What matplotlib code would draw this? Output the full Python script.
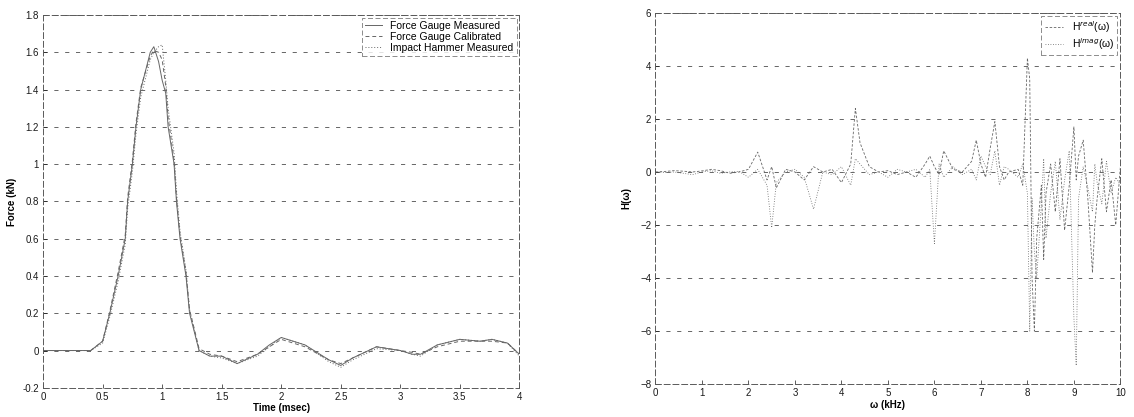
import matplotlib
matplotlib.use("Agg")
import matplotlib.pyplot as plt

plt.rcParams['font.family'] = ['Liberation Sans', 'DejaVu Sans']

# ---------------- Left panel data: force pulse ----------------
time_ms = [0.0, 0.1, 0.2, 0.3, 0.4, 0.5, 0.56, 0.63, 0.69, 0.71,
           0.75, 0.78, 0.82, 0.90, 0.93, 0.97, 1.0, 1.03, 1.05, 1.10,
           1.12, 1.15, 1.20, 1.23, 1.31, 1.4, 1.5, 1.63, 1.8, 1.9,
           2.0, 2.2, 2.4, 2.5, 2.6, 2.8, 3.0, 3.1, 3.17, 3.31,
           3.5, 3.67, 3.77, 3.9, 4.0]
force_measured = [0.0, 0.0, 0.0, 0.0, 0.0, 0.05, 0.2, 0.4, 0.6, 0.8,
                  1.0, 1.2, 1.4, 1.6, 1.63, 1.55, 1.45, 1.38, 1.2, 1.0,
                  0.8, 0.6, 0.4, 0.2, 0.0, -0.03, -0.03, -0.07, -0.02, 0.03,
                  0.07, 0.03, -0.05, -0.08, -0.04, 0.02, 0.0, -0.02, -0.02, 0.03,
                  0.06, 0.05, 0.06, 0.04, -0.02]
force_calibrated = [0.0, 0.0, 0.0, 0.0, 0.0, 0.05, 0.21, 0.42, 0.62, 0.82,
                    1.02, 1.22, 1.41, 1.58, 1.61, 1.6, 1.56, 1.42, 1.25, 1.02,
                    0.82, 0.62, 0.42, 0.22, 0.01, -0.02, -0.03, -0.06, -0.02, 0.02,
                    0.06, 0.02, -0.05, -0.07, -0.04, 0.02, 0.0, -0.01, -0.02, 0.02,
                    0.05, 0.05, 0.05, 0.04, -0.02]
force_hammer = [0.0, 0.0, 0.0, 0.0, 0.0, 0.04, 0.18, 0.37, 0.57, 0.76,
                0.96, 1.16, 1.36, 1.56, 1.6, 1.63, 1.64, 1.45, 1.3, 1.06,
                0.86, 0.64, 0.43, 0.22, 0.0, -0.03, -0.04, -0.07, -0.03, 0.02,
                0.07, 0.03, -0.06, -0.09, -0.05, 0.01, 0.0, -0.02, -0.03, 0.03,
                0.06, 0.05, 0.06, 0.04, -0.03]
force_labels = ['Force Gauge Measured', 'Force Gauge Calibrated', 'Impact Hammer Measured']

# ---------------- Right panel data: transfer function ----------------
freq_khz = [0.0, 0.2, 0.4, 0.6, 0.8, 1.0, 1.2, 1.4, 1.6, 1.8,
            2.0, 2.2, 2.4, 2.5, 2.6, 2.8, 3.0, 3.2, 3.4, 3.6,
            3.8, 4.0, 4.2, 4.3, 4.4, 4.6, 4.8, 5.0, 5.2, 5.4,
            5.6, 5.8, 5.9, 6.0, 6.1, 6.2, 6.4, 6.6, 6.8, 6.9,
            7.0, 7.1, 7.2, 7.3, 7.4, 7.5, 7.6, 7.8, 7.9, 8.0,
            8.05, 8.1, 8.15, 8.2, 8.3, 8.35, 8.4, 8.5, 8.6, 8.7,
            8.8, 8.9, 9.0, 9.05, 9.1, 9.2, 9.3, 9.4, 9.45, 9.5,
            9.6, 9.7, 9.8, 9.9, 10.0]
H_real = [0.0, 0.02, 0.05, 0.03, 0.0, 0.04, 0.1, 0.05, -0.05, 0.0,
          0.1, 0.75, -0.3, 0.2, -0.6, 0.1, 0.0, -0.3, 0.2, 0.0,
          0.1, -0.4, 0.3, 2.4, 1.1, 0.2, 0.0, 0.05, -0.1, 0.0,
          -0.2, 0.3, 0.6, 0.2, -0.1, 0.8, 0.1, 0.0, 0.4, 1.2,
          0.3, -0.2, 0.9, 1.9, 0.2, -0.3, 0.0, 0.1, -0.5, 4.3,
          3.5, -4.0, -6.0, -2.5, -0.5, -3.3, -0.8, 0.3, -1.5, 0.5,
          -2.2, -0.5, 1.7, -0.3, 0.6, 1.2, -1.0, -3.8, -2.0, -1.0,
          0.5, -1.5, -0.3, -2.0, 0.2]
H_imag = [0.0, -0.02, 0.0, -0.05, -0.1, 0.0, 0.05, -0.05, 0.0, 0.02,
          -0.2, 0.1, -0.5, -2.1, -0.4, 0.0, 0.1, -0.2, -1.4, 0.0,
          -0.1, 0.2, -0.5, 0.5, 0.3, -0.1, 0.0, -0.2, 0.1, 0.0,
          0.1, -0.2, 0.1, -2.7, 0.3, -0.2, 0.2, -0.1, 0.1, -0.3,
          0.6, 0.2, -0.1, 0.8, -0.5, 0.2, 0.1, -0.2, 0.3, -0.8,
          -6.0, -1.0, -3.0, -4.0, -1.2, 0.5, -2.5, -0.8, 0.4, -1.8,
          -0.3, 0.8, -5.5, -7.3, -1.0, 0.2, -0.6, -1.5, 0.3, -0.4,
          -1.2, 0.4, -0.8, -0.2, -0.5]
H_labels = ['H$^{real}$(ω)', 'H$^{imag}$(ω)']

left_xticks = [0, 0.5, 1, 1.5, 2, 2.5, 3, 3.5, 4]
left_yticks = [-0.2, 0, 0.2, 0.4, 0.6, 0.8, 1, 1.2, 1.4, 1.6, 1.8]
right_xticks = list(range(0, 11))
right_yticks = [-8, -6, -4, -2, 0, 2, 4, 6]

fig = plt.figure(figsize=(11.34, 4.17), dpi=100)
ax1 = fig.add_axes([0.038, 0.070, 0.420, 0.894])
ax2 = fig.add_axes([0.578, 0.079, 0.410, 0.890])

line_col = '0.4'
grid_kw = dict(linestyle=(0, (5, 8)), color='0.3', linewidth=0.6)

def style_axes(ax):
    for s in ax.spines.values():
        s.set_linestyle((0, (6, 3)))
        s.set_color('0.35')
        s.set_linewidth(0.7)
    ax.tick_params(direction='in', length=3, width=0.5, labelsize=7, pad=3, colors='0.1')
    ax.yaxis.grid(True, **grid_kw)
    ax.xaxis.grid(False)
    ax.set_axisbelow(True)

ax1.plot(time_ms, force_measured, color=line_col, lw=0.7, ls='-', label=force_labels[0])
ax1.plot(time_ms, force_calibrated, color=line_col, lw=0.7, ls=(0, (4, 3)), label=force_labels[1])
ax1.plot(time_ms, force_hammer, color=line_col, lw=0.7, ls=(0, (1, 2)), label=force_labels[2])
ax1.set_xlim(0, 4)
ax1.set_ylim(-0.2, 1.8)
ax1.set_xticks(left_xticks)
ax1.set_xticklabels([f'{v:g}' for v in left_xticks])
ax1.set_yticks(left_yticks)
ax1.set_yticklabels([f'{v:g}' for v in left_yticks])
style_axes(ax1)
ax1.set_xlabel('Time (msec)', fontsize=7, fontweight='bold', labelpad=1)
ax1.set_ylabel('Force (kN)', fontsize=7, fontweight='bold', labelpad=4)
leg1 = ax1.legend(loc='upper right', fontsize=7.5, frameon=True, fancybox=False,
                  handlelength=1.6, borderpad=0.3, labelspacing=0.1,
                  borderaxespad=0.25)
leg1.get_frame().set_edgecolor('0.35')
leg1.get_frame().set_linestyle((0, (6, 3)))
leg1.get_frame().set_linewidth(0.6)

ax2.plot(freq_khz, H_real, color=line_col, lw=0.6, ls=(0, (3, 2)), label=H_labels[0])
ax2.plot(freq_khz, H_imag, color=line_col, lw=0.6, ls=(0, (1, 2)), label=H_labels[1])
ax2.set_xlim(0, 10)
ax2.set_ylim(-8, 6)
ax2.set_xticks(right_xticks)
ax2.set_yticks(right_yticks)
style_axes(ax2)
ax2.set_xlabel('ω (kHz)', fontsize=7, fontweight='bold', labelpad=1)
ax2.set_ylabel('H(ω)', fontsize=7, fontweight='bold', labelpad=6)
leg2 = ax2.legend(loc='upper right', fontsize=7.5, frameon=True, fancybox=False,
                  handlelength=1.8, borderpad=0.3, labelspacing=0.1,
                  borderaxespad=0.3)
leg2.get_frame().set_edgecolor('0.35')
leg2.get_frame().set_linestyle((0, (6, 3)))
leg2.get_frame().set_linewidth(0.6)

fig.savefig('out.png', dpi=100)
